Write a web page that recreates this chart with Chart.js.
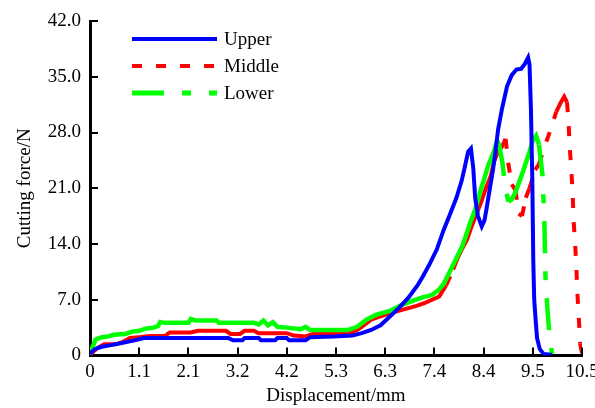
<!DOCTYPE html>
<html>
<head>
<meta charset="utf-8">
<title>Cutting force vs displacement</title>
<script src="https://cdn.jsdelivr.net/npm/chart.js@4.4.0/dist/chart.umd.min.js"></script>
<style>
  html, body { margin: 0; padding: 0; background: #fff; }
  canvas { display: block; }
</style>
</head>
<body>
<canvas id="chart" width="595" height="408"></canvas>
<script>
// values (displacement in mm, force in N)
var upperX = [0, 0.1, 0.25, 0.45, 0.7, 0.95, 1.15, 1.6, 2.1, 2.6, 2.95, 3.05, 3.25, 3.3, 3.6, 3.65, 3.95, 4.0, 4.2, 4.25, 4.6, 4.7, 5.2, 5.6, 5.8, 6.0, 6.2, 6.4, 6.6, 6.8, 7.0, 7.1, 7.25, 7.4, 7.55, 7.7, 7.82, 7.93, 8.0, 8.07, 8.13, 8.18, 8.22, 8.28, 8.36, 8.42, 8.47, 8.54, 8.6, 8.65, 8.71, 8.79, 8.9, 9.0, 9.1, 9.2, 9.28, 9.35, 9.38, 9.41, 9.44, 9.46, 9.48, 9.51, 9.54, 9.6, 9.68, 9.85];
var upperY = [0.2, 0.8, 1.1, 1.3, 1.6, 1.9, 2.2, 2.2, 2.2, 2.2, 2.2, 1.9, 1.9, 2.2, 2.2, 1.9, 1.9, 2.2, 2.2, 1.9, 1.9, 2.3, 2.4, 2.5, 2.8, 3.2, 3.8, 4.9, 6.0, 7.3, 8.9, 9.9, 11.5, 13.3, 15.8, 18.0, 19.8, 21.9, 23.7, 25.6, 26.0, 23.5, 19.8, 17.5, 16.2, 17.0, 18.7, 21.2, 23.3, 25.5, 28.4, 30.9, 33.8, 35.2, 35.9, 36.0, 36.6, 37.4, 36.5, 31.0, 22.0, 12.0, 7.0, 4.5, 2.2, 0.8, 0.2, 0.1];

var middleX = [0, 0.15, 0.3, 0.55, 0.7, 0.85, 1.05, 1.3, 1.6, 1.7, 2.15, 2.3, 2.9, 3.0, 3.2, 3.3, 3.5, 3.6, 4.2, 4.35, 4.6, 4.8, 5.55, 5.7, 5.8, 6.0, 6.2, 6.45, 6.7, 6.95, 7.15, 7.3, 7.45, 7.6, 7.75, 7.85, 7.95, 8.05, 8.15, 8.25, 8.35, 8.45, 8.55, 8.62, 8.7, 8.8, 8.87, 8.93, 9.0, 9.08, 9.15, 9.22, 9.3, 9.38, 9.5, 9.58, 9.7, 9.82, 9.95, 10.05, 10.12, 10.18, 10.21, 10.24, 10.27, 10.3, 10.32, 10.35, 10.38, 10.4, 10.43, 10.46, 10.5];
var middleY = [0.1, 0.9, 1.4, 1.4, 1.7, 2.2, 2.3, 2.45, 2.45, 2.9, 2.9, 3.1, 3.1, 2.7, 2.7, 3.1, 3.1, 2.8, 2.8, 2.5, 2.4, 2.8, 2.8, 3.2, 3.6, 4.5, 4.9, 5.4, 5.8, 6.2, 6.6, 7.0, 7.4, 8.8, 10.8, 12.3, 13.5, 14.6, 16.3, 17.8, 19.3, 21.0, 22.5, 24.3, 25.5, 26.3, 27.2, 24.0, 21.5, 20.8, 17.8, 17.5, 19.8, 21.0, 23.3, 24.0, 26.2, 28.2, 30.6, 31.8, 32.5, 31.8, 29.5, 26.0, 23.5, 20.5, 17.0, 14.4, 11.0, 8.0, 5.0, 1.5, 0.3];

var lowerX = [0, 0.05, 0.12, 0.25, 0.4, 0.5, 0.75, 0.9, 1.05, 1.2, 1.35, 1.45, 1.5, 1.6, 2.1, 2.15, 2.25, 2.7, 2.75, 3.5, 3.6, 3.7, 3.8, 3.9, 4.0, 4.2, 4.5, 4.6, 4.7, 5.5, 5.7, 5.9, 6.1, 6.4, 6.6, 6.85, 7.1, 7.3, 7.45, 7.55, 7.65, 7.75, 7.85, 7.95, 8.05, 8.12, 8.2, 8.27, 8.35, 8.42, 8.5, 8.58, 8.64, 8.69, 8.73, 8.8, 8.86, 8.93, 9.0, 9.08, 9.18, 9.28, 9.38, 9.45, 9.52, 9.58, 9.62, 9.66, 9.7, 9.72, 9.76, 9.8, 9.86];
var lowerY = [0.1, 1.0, 2.0, 2.3, 2.4, 2.6, 2.7, 3.0, 3.1, 3.4, 3.5, 3.7, 4.2, 4.1, 4.1, 4.6, 4.4, 4.4, 4.1, 4.1, 3.9, 4.4, 3.8, 4.2, 3.6, 3.5, 3.3, 3.6, 3.2, 3.2, 3.6, 4.5, 5.1, 5.6, 6.2, 6.8, 7.3, 7.6, 8.3, 9.0, 10.2, 11.4, 12.6, 13.8, 15.5, 16.8, 18.0, 19.3, 21.0, 22.3, 23.9, 25.0, 26.0, 27.0, 26.5, 24.3, 21.2, 19.3, 19.6, 20.5, 22.1, 23.8, 25.6, 27.0, 27.6, 26.5, 24.5, 22.5, 16.0, 10.0, 6.0, 3.0, 0.2];

var seriesNames = ["Upper", "Middle", "Lower"];
var xTickLabels = ["0", "1.1", "2.1", "3.2", "4.2", "5.3", "6.3", "7.4", "8.4", "9.5", "10.5"];
var yTickLabels = ["0", "7.0", "14.0", "21.0", "28.0", "35.0", "42.0"];

var FONT = "'Liberation Serif', 'Times New Roman', serif";

function toPoints(xs, ys) {
  var pts = [];
  for (var i = 0; i < xs.length; i++) pts.push({ x: xs[i], y: ys[i] });
  return pts;
}

// fast force changes show the dash pattern, the slow noisy parts look solid
function dashWhenSteep(pattern) {
  return function(c) {
    return Math.abs(c.p1.y - c.p0.y) > 15 ? pattern : [];
  };
}

var redDash = [10, 14];
var greenDash = [32, 18, 9, 18];

// tick marks point into the plot
var inwardTicks = {
  id: 'inwardTicks',
  afterDraw: function(chart) {
    var ctx = chart.ctx, xs = chart.scales.x, ys = chart.scales.y, a = chart.chartArea;
    ctx.save();
    ctx.strokeStyle = '#000';
    ctx.lineWidth = 2;
    ctx.beginPath();
    xs.ticks.forEach(function(t) {
      if (t.value === 0) return;
      var px = Math.round(xs.getPixelForValue(t.value));
      ctx.moveTo(px, a.bottom);
      ctx.lineTo(px, a.bottom - 8);
    });
    ys.ticks.forEach(function(t) {
      if (t.value === 0) return;
      var py = Math.round(ys.getPixelForValue(t.value));
      ctx.moveTo(a.left, py);
      ctx.lineTo(a.left + 8, py);
    });
    ctx.stroke();
    ctx.restore();
  }
};

// legend inside the plot, top left
var lineLegend = {
  id: 'lineLegend',
  afterDraw: function(chart) {
    var ctx = chart.ctx, a = chart.chartArea;
    ctx.save();
    chart.data.datasets.forEach(function(ds, i) {
      var y = a.top + 18 + i * 27;
      ctx.beginPath();
      ctx.strokeStyle = ds.borderColor;
      ctx.lineWidth = ds.legendWidth;
      ctx.setLineDash(ds.legendDash);
      ctx.moveTo(a.left + 42, y);
      ctx.lineTo(a.left + 127, y);
      ctx.stroke();
      ctx.setLineDash([]);
      ctx.fillStyle = '#000';
      ctx.font = '19px ' + FONT;
      ctx.textBaseline = 'middle';
      ctx.textAlign = 'left';
      ctx.fillText(ds.label, a.left + 134, y + 1);
    });
    ctx.restore();
  }
};

new Chart(document.getElementById('chart'), {
  type: 'line',
  data: {
    datasets: [
      {
        label: seriesNames[0],
        data: toPoints(upperX, upperY),
        borderColor: '#0000ff',
        borderWidth: 4,
        legendWidth: 4,
        legendDash: [],
        order: 0
      },
      {
        label: seriesNames[1],
        data: toPoints(middleX, middleY),
        borderColor: '#ff0000',
        borderWidth: 4,
        legendWidth: 4,
        legendDash: redDash,
        segment: { borderDash: dashWhenSteep(redDash) },
        order: 2
      },
      {
        label: seriesNames[2],
        data: toPoints(lowerX, lowerY),
        borderColor: '#00ff00',
        borderWidth: 4.5,
        legendWidth: 5,
        legendDash: greenDash,
        segment: { borderDash: dashWhenSteep(greenDash) },
        order: 1
      }
    ]
  },
  options: {
    responsive: false,
    animation: false,
    devicePixelRatio: 1,
    layout: { padding: { top: 21, right: 13, left: 0, bottom: 0 } },
    elements: {
      point: { radius: 0, hoverRadius: 0 },
      line: { tension: 0, fill: false, borderJoinStyle: 'miter' }
    },
    plugins: {
      legend: { display: false },
      tooltip: { enabled: false }
    },
    scales: {
      x: {
        type: 'linear',
        min: 0,
        max: 10.5,
        grid: { display: false, drawTicks: false },
        border: { display: true, color: '#000', width: 3 },
        ticks: {
          stepSize: 1.05,
          autoSkip: false,
          maxRotation: 0,
          padding: 5,
          color: '#000',
          font: { family: FONT, size: 19 },
          callback: function(v, i) { return xTickLabels[i]; }
        },
        title: {
          display: true,
          text: 'Displacement/mm',
          color: '#000',
          font: { family: FONT, size: 19 },
          padding: { top: 0, bottom: 1 }
        },
        afterFit: function(s) { s.height = 52.5; s.paddingLeft = 0; s.paddingRight = 0; }
      },
      y: {
        min: 0,
        max: 42,
        grid: { display: false, drawTicks: false },
        border: { display: true, color: '#000', width: 3 },
        ticks: {
          stepSize: 7,
          padding: 9,
          color: '#000',
          font: { family: FONT, size: 19 },
          callback: function(v, i) { return yTickLabels[i]; }
        },
        title: {
          display: true,
          text: 'Cutting force/N',
          color: '#000',
          font: { family: FONT, size: 19 },
          padding: { top: 14, bottom: 0 }
        },
        afterFit: function(s) { s.width = 90; s.paddingTop = 0; s.paddingBottom = 0; }
      }
    }
  },
  plugins: [inwardTicks, lineLegend]
});
</script>
</body>
</html>
